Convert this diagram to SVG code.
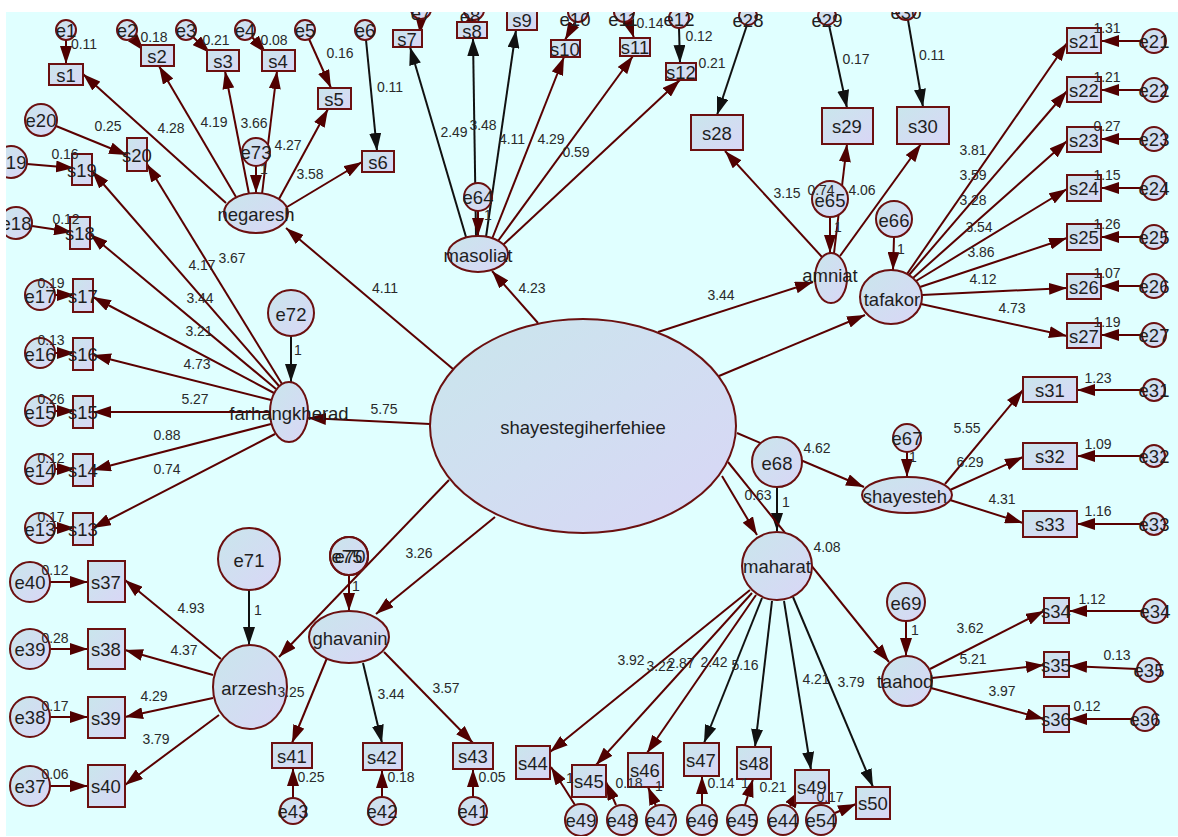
<svg xmlns="http://www.w3.org/2000/svg" width="1178" height="837" viewBox="0 0 1178 837">
<defs>
<linearGradient id="g" x1="0" y1="0" x2="1" y2="1"><stop offset="0" stop-color="#c9e6ec"/><stop offset="1" stop-color="#d9d6f6"/></linearGradient>
<marker id="am" markerUnits="userSpaceOnUse" markerWidth="18" markerHeight="12" viewBox="0 0 18 12" refX="18" refY="6" orient="auto"><path d="M0,0L18,6L0,12z" fill="#500000"/></marker>
<marker id="ak" markerUnits="userSpaceOnUse" markerWidth="18" markerHeight="12" viewBox="0 0 18 12" refX="18" refY="6" orient="auto"><path d="M0,0L18,6L0,12z" fill="#111"/></marker>
<clipPath id="clip"><rect x="6" y="12" width="1172" height="824"/></clipPath>
<style>
.n{fill:url(#g);stroke:#6b1010;stroke-width:2}
.t{font-family:"Liberation Sans",Arial,sans-serif;font-size:18.5px;fill:#1e1e1e;text-anchor:middle;dominant-baseline:central}
.l{font-family:"Liberation Sans",Arial,sans-serif;font-size:14px;fill:#2a2a2a;text-anchor:middle}
.c{stroke:#5a0000;stroke-width:2;fill:none;marker-end:url(#am)}
.k{stroke:#111;stroke-width:2;fill:none;marker-end:url(#ak)}
</style>
</defs>
<rect x="0" y="0" width="1178" height="837" fill="#fff"/>
<g clip-path="url(#clip)">
<rect x="6" y="12" width="1172" height="824" fill="#e0ffff"/>

<g id="connectors">
<line class="c" x1="66" y1="40" x2="66" y2="64"/>
<line class="c" x1="133" y1="38" x2="144" y2="51"/>
<line class="c" x1="193" y1="37" x2="210" y2="53"/>
<line class="c" x1="252" y1="37" x2="266" y2="53"/>
<line class="c" x1="309" y1="39" x2="331" y2="88"/>
<line class="k" x1="366" y1="40" x2="377" y2="151"/>
<line class="c" x1="256" y1="166" x2="256" y2="193"/>
<line class="c" x1="226" y1="203" x2="83" y2="74"/>
<line class="c" x1="236" y1="197" x2="159" y2="66"/>
<line class="c" x1="249" y1="194" x2="225" y2="71"/>
<line class="c" x1="262" y1="194" x2="277" y2="71"/>
<line class="c" x1="279" y1="199" x2="328" y2="109"/>
<line class="c" x1="287" y1="207" x2="362" y2="162"/>
<line class="c" x1="56" y1="126" x2="127" y2="155"/>
<line class="c" x1="27" y1="164" x2="74" y2="168"/>
<line class="c" x1="32" y1="226" x2="72" y2="232"/>
<line class="c" x1="55" y1="295" x2="75" y2="295"/>
<line class="c" x1="55" y1="353" x2="75" y2="353"/>
<line class="c" x1="55" y1="411" x2="75" y2="411"/>
<line class="c" x1="55" y1="469" x2="75" y2="469"/>
<line class="c" x1="55" y1="528" x2="75" y2="528"/>
<line class="c" x1="282" y1="384" x2="147" y2="164"/>
<line class="c" x1="279" y1="386" x2="92" y2="171"/>
<line class="c" x1="276" y1="389" x2="90" y2="234"/>
<line class="c" x1="274" y1="393" x2="93" y2="297"/>
<line class="c" x1="271" y1="400" x2="93" y2="355"/>
<line class="c" x1="270" y1="412" x2="93" y2="412"/>
<line class="c" x1="271" y1="424" x2="93" y2="470"/>
<line class="c" x1="275" y1="434" x2="93" y2="528"/>
<line class="k" x1="291" y1="336" x2="291" y2="382"/>

<line class="k" x1="466" y1="237" x2="410" y2="47"/>
<line class="k" x1="476" y1="236" x2="473" y2="38"/>
<line class="k" x1="486" y1="237" x2="516" y2="30"/>
<line class="c" x1="492" y1="239" x2="564" y2="57"/>
<line class="c" x1="498" y1="241" x2="633" y2="56"/>
<line class="c" x1="503" y1="245" x2="680" y2="80"/>
<line class="c" x1="478" y1="211" x2="478" y2="236"/>
<line class="c" x1="421" y1="19" x2="420" y2="34"/>
<line class="c" x1="478" y1="18" x2="458" y2="31"/>
<line class="c" x1="528" y1="6" x2="524" y2="24"/>
<line class="c" x1="575" y1="22" x2="565" y2="40"/>
<line class="c" x1="628" y1="20" x2="634" y2="38"/>
<line class="k" x1="679" y1="28" x2="680" y2="63"/>

<line class="c" x1="822" y1="257" x2="725" y2="151"/>
<line class="c" x1="834" y1="253" x2="847" y2="144"/>
<line class="c" x1="840" y1="256" x2="921" y2="144"/>
<line class="c" x1="830" y1="217" x2="830" y2="253"/>
<line class="k" x1="747" y1="25" x2="717" y2="115"/>
<line class="k" x1="829" y1="25" x2="847" y2="108"/>
<line class="k" x1="908" y1="20" x2="923" y2="107"/>

<line class="c" x1="907" y1="274" x2="1067" y2="43"/>
<line class="c" x1="909" y1="275" x2="1067" y2="91"/>
<line class="c" x1="913" y1="278" x2="1067" y2="141"/>
<line class="c" x1="916" y1="281" x2="1067" y2="189"/>
<line class="c" x1="920" y1="287" x2="1067" y2="238"/>
<line class="c" x1="922" y1="295" x2="1067" y2="288"/>
<line class="c" x1="921" y1="304" x2="1067" y2="336"/>
<line class="c" x1="894" y1="237" x2="893" y2="270"/>
<line class="c" x1="1142" y1="41" x2="1101" y2="41"/>
<line class="c" x1="1142" y1="90" x2="1101" y2="90"/>
<line class="c" x1="1142" y1="139" x2="1101" y2="139"/>
<line class="c" x1="1142" y1="188" x2="1101" y2="188"/>
<line class="c" x1="1142" y1="237" x2="1101" y2="237"/>
<line class="c" x1="1142" y1="286" x2="1101" y2="286"/>
<line class="c" x1="1142" y1="335" x2="1101" y2="335"/>

<line class="c" x1="945" y1="484" x2="1023" y2="390"/>
<line class="c" x1="950" y1="490" x2="1023" y2="457"/>
<line class="c" x1="950" y1="500" x2="1023" y2="523"/>
<line class="c" x1="907" y1="452" x2="907" y2="477"/>
<line class="c" x1="1143" y1="390" x2="1077" y2="390"/>
<line class="c" x1="1143" y1="456" x2="1077" y2="456"/>
<line class="c" x1="1143" y1="524" x2="1077" y2="524"/>

<line class="c" x1="930" y1="669" x2="1044" y2="611"/>
<line class="c" x1="932" y1="678" x2="1044" y2="665"/>
<line class="c" x1="931" y1="688" x2="1044" y2="719"/>
<line class="c" x1="906" y1="621" x2="906" y2="656"/>
<line class="c" x1="1143" y1="611" x2="1069" y2="611"/>
<line class="c" x1="1137" y1="669" x2="1069" y2="666"/>
<line class="c" x1="1133" y1="719" x2="1069" y2="719"/>

<line class="c" x1="750" y1="590" x2="550" y2="752"/>
<line class="c" x1="752" y1="593" x2="596" y2="765"/>
<line class="c" x1="756" y1="595" x2="647" y2="753"/>
<line class="k" x1="762" y1="598" x2="704" y2="743"/>
<line class="k" x1="772" y1="601" x2="755" y2="747"/>
<line class="k" x1="784" y1="601" x2="811" y2="770"/>
<line class="k" x1="793" y1="597" x2="873" y2="787"/>
<line class="k" x1="777" y1="487" x2="777" y2="531"/>
<line class="c" x1="575" y1="805" x2="551" y2="767"/>
<line class="c" x1="616" y1="805" x2="606" y2="782"/>
<line class="c" x1="656" y1="806" x2="648" y2="787"/>
<line class="c" x1="702" y1="805" x2="702" y2="776"/>
<line class="c" x1="745" y1="805" x2="753" y2="779"/>
<line class="c" x1="790" y1="806" x2="800" y2="790"/>
<line class="c" x1="835" y1="813" x2="856" y2="804"/>

<line class="c" x1="327" y1="658" x2="292" y2="743"/>
<line class="k" x1="363" y1="663" x2="382" y2="743"/>
<line class="c" x1="384" y1="652" x2="473" y2="743"/>
<line class="c" x1="349" y1="575" x2="349" y2="611"/>
<line class="c" x1="293" y1="798" x2="293" y2="768"/>
<line class="c" x1="382" y1="797" x2="382" y2="770"/>
<line class="c" x1="473" y1="797" x2="473" y2="769"/>

<line class="c" x1="221" y1="659" x2="125" y2="580"/>
<line class="c" x1="213" y1="675" x2="125" y2="650"/>
<line class="c" x1="213" y1="698" x2="125" y2="717"/>
<line class="c" x1="219" y1="715" x2="125" y2="785"/>
<line class="k" x1="249" y1="590" x2="249" y2="645"/>
<line class="c" x1="50" y1="582" x2="88" y2="582"/>
<line class="c" x1="50" y1="649" x2="88" y2="649"/>
<line class="c" x1="50" y1="717" x2="88" y2="717"/>
<line class="c" x1="50" y1="786" x2="88" y2="786"/>

<line class="c" x1="453" y1="369" x2="286" y2="228"/>
<line class="c" x1="538" y1="323" x2="492" y2="271"/>
<line class="c" x1="658" y1="332" x2="813" y2="282"/>
<line class="c" x1="719" y1="376" x2="865" y2="315"/>
<line class="c" x1="430" y1="424" x2="308" y2="418"/>
<line class="c" x1="737" y1="433" x2="864" y2="487"/>
<line class="c" x1="722" y1="476" x2="757" y2="535"/>
<line class="c" x1="728" y1="462" x2="889" y2="662"/>
<line class="c" x1="495" y1="517" x2="376" y2="614"/>
<line class="c" x1="449" y1="480" x2="279" y2="657"/>
</g>

<g id="shayestegiherfehiee"><ellipse class="n" cx="583" cy="426" rx="153" ry="107"/><text class="t" x="583" y="427">shayestegiherfehiee</text></g>
<g id="negaresh"><ellipse class="n" cx="256" cy="213" rx="32" ry="20"/><text class="t" x="256" y="214">negaresh</text></g>
<g id="masoliat"><ellipse class="n" cx="478" cy="254" rx="30" ry="18"/><text class="t" x="478" y="255">masoliat</text></g>
<g id="amniat"><ellipse class="n" cx="831" cy="278" rx="16" ry="25"/><text class="t" x="830" y="275">amniat</text></g>
<g id="tafakor"><ellipse class="n" cx="891" cy="297" rx="31" ry="27"/><text class="t" x="892" y="299">tafakor</text></g>
<g id="farhangkherad"><ellipse class="n" cx="289" cy="412" rx="19" ry="30"/><text class="t" x="289" y="413">farhangkherad</text></g>
<g id="arzesh"><ellipse class="n" cx="250" cy="687" rx="37" ry="42"/><text class="t" x="249" y="688">arzesh</text></g>
<g id="ghavanin"><ellipse class="n" cx="349" cy="637" rx="40" ry="26"/><text class="t" x="350" y="638">ghavanin</text></g>
<g id="maharat"><ellipse class="n" cx="777" cy="566" rx="35" ry="34"/><text class="t" x="777" y="566">maharat</text></g>
<g id="shayesteh"><ellipse class="n" cx="907" cy="495" rx="45" ry="18"/><text class="t" x="905" y="496">shayesteh</text></g>
<g id="taahod"><ellipse class="n" cx="907" cy="681" rx="25" ry="25"/><text class="t" x="905" y="681">taahod</text></g>

<g id="e73"><circle class="n" cx="256" cy="152" r="14"/><text class="t" x="256" y="152">e73</text></g>
<g id="e64"><circle class="n" cx="478" cy="197" r="14"/><text class="t" x="478" y="197">e64</text></g>
<g id="e65"><circle class="n" cx="830" cy="199" r="18"/><text class="t" x="830" y="200">e65</text></g>
<g id="e66"><circle class="n" cx="894" cy="219" r="18"/><text class="t" x="894" y="220">e66</text></g>
<g id="e72"><circle class="n" cx="291" cy="313" r="23"/><text class="t" x="291" y="314">e72</text></g>
<g id="e71"><circle class="n" cx="249" cy="559" r="31"/><text class="t" x="249" y="560">e71</text></g>
<g id="e75"><circle class="n" cx="349" cy="556" r="19"/><text class="t" x="347" y="556">e75</text></g>
<g id="e70"><circle class="n" cx="349" cy="556" r="19" fill-opacity="0"/><text class="t" x="350" y="556">e70</text></g>
<g id="e68"><circle class="n" cx="777" cy="462" r="25"/><text class="t" x="777" y="463">e68</text></g>
<g id="e67"><circle class="n" cx="907" cy="438" r="14"/><text class="t" x="907" y="438">e67</text></g>
<g id="e69"><circle class="n" cx="906" cy="602" r="19"/><text class="t" x="906" y="603">e69</text></g>

<g id="e1"><circle class="n" cx="66" cy="30" r="10"/><text class="t" x="66" y="30">e1</text></g>
<g id="e2"><circle class="n" cx="127" cy="30" r="10"/><text class="t" x="127" y="30">e2</text></g>
<g id="e3"><circle class="n" cx="186" cy="30" r="10"/><text class="t" x="186" y="30">e3</text></g>
<g id="e4"><circle class="n" cx="245" cy="30" r="10"/><text class="t" x="245" y="30">e4</text></g>
<g id="e5"><circle class="n" cx="305" cy="30" r="10"/><text class="t" x="305" y="30">e5</text></g>
<g id="e6"><circle class="n" cx="365" cy="30" r="10"/><text class="t" x="365" y="30">e6</text></g>
<g id="e20"><circle class="n" cx="41" cy="120" r="16"/><text class="t" x="41" y="120">e20</text></g>
<g id="e19"><circle class="n" cx="11" cy="162" r="16"/><text class="t" x="11" y="162">e19</text></g>
<g id="e18"><circle class="n" cx="16" cy="223" r="16"/><text class="t" x="16" y="223">e18</text></g>
<g id="e17"><circle class="n" cx="40" cy="295" r="15"/><text class="t" x="40" y="296">e17</text></g>
<g id="e16"><circle class="n" cx="40" cy="353" r="15"/><text class="t" x="40" y="354">e16</text></g>
<g id="e15"><circle class="n" cx="40" cy="411" r="15"/><text class="t" x="40" y="412">e15</text></g>
<g id="e14"><circle class="n" cx="40" cy="469" r="15"/><text class="t" x="40" y="470">e14</text></g>
<g id="e13"><circle class="n" cx="40" cy="528" r="15"/><text class="t" x="40" y="529">e13</text></g>
<g id="e7"><circle class="n" cx="421" cy="9" r="10"/><text class="t" x="421" y="13">e7</text></g>
<g id="e8"><circle class="n" cx="474" cy="10" r="10"/><text class="t" x="470" y="16">e8</text></g>
<g id="e9"><circle class="n" cx="526" cy="2" r="10"/><text class="t" x="526" y="6">e9</text></g>
<g id="e10"><circle class="n" cx="578" cy="12" r="10"/><text class="t" x="575" y="19">e10</text></g>
<g id="e11"><circle class="n" cx="624" cy="12" r="10"/><text class="t" x="623" y="19">e11</text></g>
<g id="e12"><circle class="n" cx="679" cy="18" r="10"/><text class="t" x="679" y="19">e12</text></g>
<g id="e28"><circle class="n" cx="748" cy="16" r="9"/><text class="t" x="748" y="20">e28</text></g>
<g id="e29"><circle class="n" cx="827" cy="16" r="9"/><text class="t" x="827" y="20">e29</text></g>
<g id="e30"><circle class="n" cx="906" cy="10" r="10"/><text class="t" x="906" y="12">e30</text></g>
<g id="e21"><circle class="n" cx="1154" cy="41" r="12"/><text class="t" x="1154" y="41">e21</text></g>
<g id="e22"><circle class="n" cx="1154" cy="90" r="12"/><text class="t" x="1154" y="90">e22</text></g>
<g id="e23"><circle class="n" cx="1154" cy="139" r="12"/><text class="t" x="1154" y="139">e23</text></g>
<g id="e24"><circle class="n" cx="1154" cy="188" r="12"/><text class="t" x="1154" y="188">e24</text></g>
<g id="e25"><circle class="n" cx="1154" cy="237" r="12"/><text class="t" x="1154" y="237">e25</text></g>
<g id="e26"><circle class="n" cx="1154" cy="286" r="12"/><text class="t" x="1154" y="286">e26</text></g>
<g id="e27"><circle class="n" cx="1154" cy="335" r="12"/><text class="t" x="1154" y="335">e27</text></g>
<g id="e31"><circle class="n" cx="1154" cy="390" r="11"/><text class="t" x="1154" y="390">e31</text></g>
<g id="e32"><circle class="n" cx="1154" cy="456" r="11"/><text class="t" x="1154" y="456">e32</text></g>
<g id="e33"><circle class="n" cx="1154" cy="524" r="11"/><text class="t" x="1154" y="524">e33</text></g>
<g id="e34"><circle class="n" cx="1155" cy="611" r="12"/><text class="t" x="1155" y="611">e34</text></g>
<g id="e35"><circle class="n" cx="1149" cy="670" r="12"/><text class="t" x="1149" y="670">e35</text></g>
<g id="e36"><circle class="n" cx="1145" cy="719" r="12"/><text class="t" x="1145" y="719">e36</text></g>
<g id="e40"><circle class="n" cx="30" cy="582" r="20"/><text class="t" x="30" y="582">e40</text></g>
<g id="e39"><circle class="n" cx="30" cy="649" r="20"/><text class="t" x="30" y="649">e39</text></g>
<g id="e38"><circle class="n" cx="30" cy="717" r="20"/><text class="t" x="30" y="717">e38</text></g>
<g id="e37"><circle class="n" cx="30" cy="786" r="20"/><text class="t" x="30" y="786">e37</text></g>
<g id="e43"><circle class="n" cx="293" cy="811" r="13"/><text class="t" x="293" y="811">e43</text></g>
<g id="e42"><circle class="n" cx="382" cy="811" r="14"/><text class="t" x="382" y="811">e42</text></g>
<g id="e41"><circle class="n" cx="473" cy="811" r="14"/><text class="t" x="473" y="811">e41</text></g>
<g id="e49"><circle class="n" cx="581" cy="820" r="16"/><text class="t" x="581" y="820">e49</text></g>
<g id="e48"><circle class="n" cx="622" cy="820" r="15"/><text class="t" x="622" y="820">e48</text></g>
<g id="e47"><circle class="n" cx="661" cy="820" r="15"/><text class="t" x="661" y="820">e47</text></g>
<g id="e46"><circle class="n" cx="702" cy="820" r="15"/><text class="t" x="702" y="820">e46</text></g>
<g id="e45"><circle class="n" cx="742" cy="820" r="15"/><text class="t" x="742" y="820">e45</text></g>
<g id="e44"><circle class="n" cx="783" cy="820" r="15"/><text class="t" x="783" y="820">e44</text></g>
<g id="e54"><circle class="n" cx="821" cy="820" r="15"/><text class="t" x="821" y="820">e54</text></g>

<g id="s1"><rect class="n" x="49" y="64" width="34" height="21"/><text class="t" x="66" y="75">s1</text></g>
<g id="s2"><rect class="n" x="141" y="45" width="33" height="21"/><text class="t" x="157" y="56">s2</text></g>
<g id="s3"><rect class="n" x="207" y="50" width="32" height="21"/><text class="t" x="223" y="61">s3</text></g>
<g id="s4"><rect class="n" x="262" y="50" width="33" height="21"/><text class="t" x="278" y="61">s4</text></g>
<g id="s5"><rect class="n" x="318" y="88" width="33" height="21"/><text class="t" x="334" y="99">s5</text></g>
<g id="s6"><rect class="n" x="362" y="151" width="32" height="21"/><text class="t" x="378" y="162">s6</text></g>
<g id="s20"><rect class="n" x="127" y="138" width="20" height="33"/><text class="t" x="137" y="155">s20</text></g>
<g id="s19"><rect class="n" x="72" y="154" width="20" height="31"/><text class="t" x="82" y="170">s19</text></g>
<g id="s18"><rect class="n" x="70" y="217" width="20" height="32"/><text class="t" x="80" y="233">s18</text></g>
<g id="s17"><rect class="n" x="73" y="279" width="20" height="33"/><text class="t" x="83" y="296">s17</text></g>
<g id="s16"><rect class="n" x="73" y="338" width="20" height="32"/><text class="t" x="83" y="354">s16</text></g>
<g id="s15"><rect class="n" x="73" y="396" width="20" height="32"/><text class="t" x="83" y="412">s15</text></g>
<g id="s14"><rect class="n" x="73" y="454" width="20" height="32"/><text class="t" x="83" y="470">s14</text></g>
<g id="s13"><rect class="n" x="73" y="513" width="20" height="32"/><text class="t" x="83" y="529">s13</text></g>
<g id="s7"><rect class="n" x="393" y="30" width="29" height="17"/><text class="t" x="407" y="39">s7</text></g>
<g id="s8"><rect class="n" x="457" y="22" width="30" height="16"/><text class="t" x="472" y="31">s8</text></g>
<g id="s9"><rect class="n" x="507" y="8" width="30" height="22"/><text class="t" x="522" y="20">s9</text></g>
<g id="s10"><rect class="n" x="551" y="40" width="29" height="17"/><text class="t" x="565" y="49">s10</text></g>
<g id="s11"><rect class="n" x="620" y="38" width="30" height="18"/><text class="t" x="635" y="47">s11</text></g>
<g id="s12"><rect class="n" x="666" y="63" width="30" height="17"/><text class="t" x="681" y="72">s12</text></g>
<g id="s28"><rect class="n" x="691" y="115" width="52" height="35"/><text class="t" x="717" y="133">s28</text></g>
<g id="s29"><rect class="n" x="822" y="108" width="51" height="36"/><text class="t" x="847" y="126">s29</text></g>
<g id="s30"><rect class="n" x="897" y="107" width="52" height="37"/><text class="t" x="923" y="126">s30</text></g>
<g id="s21"><rect class="n" x="1067" y="28" width="34" height="25"/><text class="t" x="1084" y="41">s21</text></g>
<g id="s22"><rect class="n" x="1067" y="77" width="34" height="25"/><text class="t" x="1084" y="90">s22</text></g>
<g id="s23"><rect class="n" x="1067" y="127" width="34" height="25"/><text class="t" x="1084" y="140">s23</text></g>
<g id="s24"><rect class="n" x="1067" y="175" width="34" height="26"/><text class="t" x="1084" y="188">s24</text></g>
<g id="s25"><rect class="n" x="1067" y="224" width="34" height="26"/><text class="t" x="1084" y="237">s25</text></g>
<g id="s26"><rect class="n" x="1067" y="274" width="34" height="25"/><text class="t" x="1084" y="287">s26</text></g>
<g id="s27"><rect class="n" x="1067" y="323" width="34" height="25"/><text class="t" x="1084" y="336">s27</text></g>
<g id="s31"><rect class="n" x="1023" y="377" width="54" height="25"/><text class="t" x="1050" y="390">s31</text></g>
<g id="s32"><rect class="n" x="1023" y="443" width="54" height="26"/><text class="t" x="1050" y="456">s32</text></g>
<g id="s33"><rect class="n" x="1023" y="511" width="54" height="26"/><text class="t" x="1050" y="524">s33</text></g>
<g id="s34"><rect class="n" x="1044" y="598" width="25" height="25"/><text class="t" x="1056" y="611">s34</text></g>
<g id="s35"><rect class="n" x="1044" y="652" width="25" height="25"/><text class="t" x="1056" y="665">s35</text></g>
<g id="s36"><rect class="n" x="1044" y="706" width="25" height="26"/><text class="t" x="1056" y="719">s36</text></g>
<g id="s37"><rect class="n" x="88" y="561" width="37" height="41"/><text class="t" x="106" y="582">s37</text></g>
<g id="s38"><rect class="n" x="88" y="629" width="37" height="40"/><text class="t" x="106" y="649">s38</text></g>
<g id="s39"><rect class="n" x="88" y="697" width="37" height="41"/><text class="t" x="106" y="718">s39</text></g>
<g id="s40"><rect class="n" x="88" y="765" width="37" height="42"/><text class="t" x="106" y="786">s40</text></g>
<g id="s41"><rect class="n" x="272" y="743" width="40" height="25"/><text class="t" x="292" y="756">s41</text></g>
<g id="s42"><rect class="n" x="363" y="743" width="39" height="27"/><text class="t" x="382" y="757">s42</text></g>
<g id="s43"><rect class="n" x="453" y="743" width="40" height="26"/><text class="t" x="473" y="756">s43</text></g>
<g id="s44"><rect class="n" x="516" y="746" width="34" height="33"/><text class="t" x="533" y="763">s44</text></g>
<g id="s45"><rect class="n" x="572" y="765" width="34" height="32"/><text class="t" x="589" y="781">s45</text></g>
<g id="s46"><rect class="n" x="628" y="753" width="35" height="34"/><text class="t" x="645" y="770">s46</text></g>
<g id="s47"><rect class="n" x="684" y="743" width="35" height="33"/><text class="t" x="701" y="760">s47</text></g>
<g id="s48"><rect class="n" x="737" y="747" width="34" height="32"/><text class="t" x="754" y="763">s48</text></g>
<g id="s49"><rect class="n" x="795" y="770" width="34" height="33"/><text class="t" x="812" y="787">s49</text></g>
<g id="s50"><rect class="n" x="856" y="787" width="34" height="32"/><text class="t" x="873" y="803">s50</text></g>

<g id="labels">
<text class="l" x="84" y="49">0.11</text><text class="l" x="154" y="42">0.18</text><text class="l" x="216" y="45">0.21</text><text class="l" x="274" y="45">0.08</text><text class="l" x="340" y="58">0.16</text><text class="l" x="390" y="92">0.11</text>
<text class="l" x="171" y="133">4.28</text><text class="l" x="214" y="127">4.19</text><text class="l" x="254" y="128">3.66</text><text class="l" x="288" y="150">4.27</text><text class="l" x="310" y="179">3.58</text><text class="l" x="264" y="174">1</text>
<text class="l" x="108" y="131">0.25</text><text class="l" x="65" y="159">0.16</text><text class="l" x="66" y="224">0.12</text>
<text class="l" x="202" y="270">4.17</text><text class="l" x="232" y="263">3.67</text><text class="l" x="200" y="303">3.44</text><text class="l" x="199" y="336">3.21</text><text class="l" x="197" y="369">4.73</text><text class="l" x="195" y="404">5.27</text><text class="l" x="167" y="440">0.88</text><text class="l" x="167" y="474">0.74</text>
<text class="l" x="51" y="288">0.19</text><text class="l" x="51" y="345">0.13</text><text class="l" x="51" y="404">0.26</text><text class="l" x="51" y="463">0.12</text><text class="l" x="51" y="522">0.17</text>
<text class="l" x="298" y="355">1</text>
<text class="l" x="454" y="137">2.49</text><text class="l" x="483" y="130">3.48</text><text class="l" x="512" y="144">4.11</text><text class="l" x="551" y="144">4.29</text><text class="l" x="576" y="157">0.59</text><text class="l" x="488" y="220">1</text>
<text class="l" x="650" y="28">0.14</text><text class="l" x="699" y="41">0.12</text><text class="l" x="712" y="68">0.21</text>
<text class="l" x="385" y="293">4.11</text><text class="l" x="532" y="293">4.23</text><text class="l" x="384" y="414">5.75</text><text class="l" x="721" y="300">3.44</text><text class="l" x="817" y="453">4.62</text><text class="l" x="758" y="500">0.63</text><text class="l" x="827" y="552">4.08</text><text class="l" x="419" y="558">3.26</text>
<text class="l" x="787" y="198">3.15</text><text class="l" x="821" y="195">0.74</text><text class="l" x="862" y="195">4.06</text><text class="l" x="838" y="232">1</text><text class="l" x="856" y="64">0.17</text><text class="l" x="932" y="60">0.11</text>
<text class="l" x="973" y="155">3.81</text><text class="l" x="973" y="180">3.59</text><text class="l" x="973" y="205">3.28</text><text class="l" x="979" y="232">3.54</text><text class="l" x="981" y="257">3.86</text><text class="l" x="983" y="284">4.12</text><text class="l" x="1012" y="313">4.73</text><text class="l" x="901" y="254">1</text>
<text class="l" x="1107" y="33">1.31</text><text class="l" x="1107" y="82">1.21</text><text class="l" x="1107" y="131">0.27</text><text class="l" x="1107" y="180">1.15</text><text class="l" x="1107" y="229">1.26</text><text class="l" x="1107" y="278">1.07</text><text class="l" x="1107" y="327">1.19</text>
<text class="l" x="967" y="433">5.55</text><text class="l" x="970" y="467">6.29</text><text class="l" x="1002" y="504">4.31</text><text class="l" x="913" y="462">1</text><text class="l" x="1098" y="383">1.23</text><text class="l" x="1098" y="449">1.09</text><text class="l" x="1098" y="516">1.16</text>
<text class="l" x="970" y="633">3.62</text><text class="l" x="973" y="664">5.21</text><text class="l" x="1002" y="696">3.97</text><text class="l" x="915" y="635">1</text><text class="l" x="1092" y="604">1.12</text><text class="l" x="1117" y="660">0.13</text><text class="l" x="1087" y="711">0.12</text>
<text class="l" x="631" y="665">3.92</text><text class="l" x="660" y="671">3.22</text><text class="l" x="681" y="668">2.87</text><text class="l" x="714" y="667">2.42</text><text class="l" x="745" y="670">5.16</text><text class="l" x="816" y="684">4.21</text><text class="l" x="851" y="687">3.79</text><text class="l" x="786" y="507">1</text>
<text class="l" x="570" y="783">1</text><text class="l" x="629" y="788">0.18</text><text class="l" x="659" y="791">1</text><text class="l" x="721" y="788">0.14</text><text class="l" x="745" y="788">1</text><text class="l" x="773" y="792">0.21</text><text class="l" x="830" y="802">0.17</text>
<text class="l" x="291" y="697">3.25</text><text class="l" x="391" y="699">3.44</text><text class="l" x="446" y="693">3.57</text><text class="l" x="356" y="591">1</text><text class="l" x="311" y="782">0.25</text><text class="l" x="401" y="782">0.18</text><text class="l" x="492" y="782">0.05</text>
<text class="l" x="191" y="613">4.93</text><text class="l" x="184" y="655">4.37</text><text class="l" x="154" y="701">4.29</text><text class="l" x="156" y="744">3.79</text><text class="l" x="258" y="615">1</text>
<text class="l" x="55" y="575">0.12</text><text class="l" x="55" y="643">0.28</text><text class="l" x="55" y="711">0.17</text><text class="l" x="55" y="779">0.06</text>
</g>
</g>
</svg>
